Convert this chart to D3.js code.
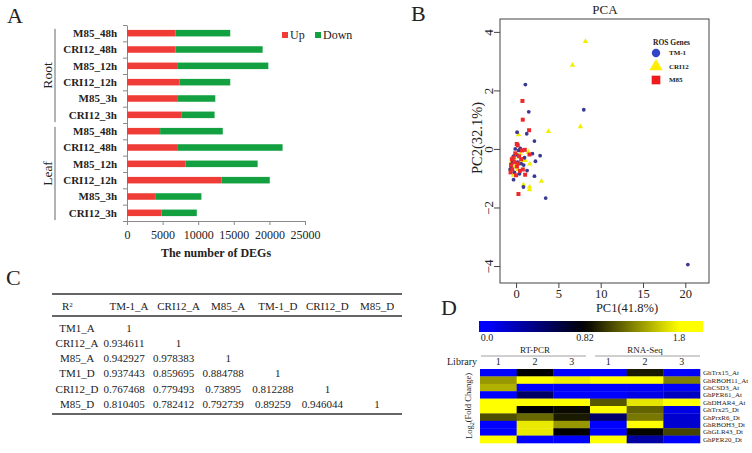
<!DOCTYPE html>
<html>
<head>
<meta charset="utf-8">
<script src="https://cdn.jsdelivr.net/npm/d3@7"></script>
<style>
  body { margin: 0; background: #fff; }
  svg text { font-family: "Liberation Serif", "Times New Roman", serif; fill: #222; }
</style>
</head>
<body>
<svg id="fig" width="752" height="453"></svg>
<script>
// ---- panel A : DEG counts ----
const barGroups = [ 'Root', 'Leaf' ];
const barLabels = [ 'M85_48h', 'CRI12_48h', 'M85_12h', 'CRI12_12h', 'M85_3h', 'CRI12_3h' ];
const rootUp = [ 6800, 6800, 7150, 7350, 7150, 7700 ];
const rootDown = [ 7700, 12250, 12700, 7150, 5250, 4600 ];
const leafUp = [ 4650, 7150, 8200, 13250, 4050, 4850 ];
const leafDown = [ 8800, 14700, 10150, 6800, 6400, 4950 ];
const degTicks = [ 0, 5000, 10000, 15000, 20000, 25000 ];
const degKeys = [ 'Up', 'Down' ];

// ---- panel B : PCA ----
const pcaGroups = [ 'TM-1', 'CRI12', 'M85' ];
const tm1Points = [
  [20.3, -3.95], [8.0, 1.34], [1.1, 2.2], [1.5, 1.27], [3.5, -1.68], [1.26, 0.52],
  [0.12, 0.57], [2.17, 0.27], [0.87, -1.3], [2.17, -0.93], [-0.3, -1.05], [2.84, -0.23],
  [2.29, -0.42], [1.93, -0.16], [1.3, -0.74], [-0.1, 0.0], [0.5, 0.02], [0.3, -0.05],
  [-0.5, -0.5], [-0.6, -0.6], [-0.4, -0.4], [0.2, -0.45], [0.6, -0.5], [-0.2, -0.8],
  [0.4, -0.85], [0.9, -0.55], [-0.7, -0.7], [0.1, -0.2], [1.0, -0.3], [-0.3, -0.25]
];
const cri12Points = [
  [8.2, 3.67], [6.67, 2.86], [7.6, 0.76], [3.83, 0.6], [0.3, 0.49], [0.87, -1.22],
  [1.6, -1.3], [1.6, -1.39], [3.0, -1.1], [1.62, -0.51], [1.07, -0.39], [1.46, -0.1],
  [-0.4, -0.6], [-0.2, -0.3], [0.2, -0.7], [0.5, -0.15], [-0.6, -0.45], [0.0, -0.55],
  [0.8, -0.4], [-0.3, -0.9]
];
const m85Points = [
  [0.75, 1.64], [0.79, 1.0], [1.54, 0.64], [0.08, 0.17], [0.2, 0.12], [0.28, -1.54],
  [1.03, -0.03], [1.58, -0.19], [1.07, -0.88], [-0.3, -0.3], [-0.6, -0.55], [-0.45, -0.7],
  [-0.2, -0.45], [0.1, -0.6], [0.35, -0.25], [0.6, -0.35], [0.45, -0.75], [-0.65, -0.8],
  [0.0, -0.9], [0.8, -0.7], [-0.1, -0.15], [0.25, -0.5], [-0.5, -0.35], [0.7, -0.05]
];
const pcaXTicks = [ 0, 5, 10, 15, 20 ];
const pcaYTicks = [ -4, -2, 0, 2, 4 ];

// ---- panel C : R² table ----
const rsqHeader = [ 'TM-1_A', 'CRI12_A', 'M85_A', 'TM-1_D', 'CRI12_D', 'M85_D' ];
const rsqNames = [ 'TM1_A', 'CRI12_A', 'M85_A', 'TM1_D', 'CRI12_D', 'M85_D' ];
const rsqValues = [
  [ 1 ],
  [ 0.934611, 1 ],
  [ 0.942927, 0.978383, 1 ],
  [ 0.937443, 0.859695, 0.884788, 1 ],
  [ 0.767468, 0.779493, 0.73895, 0.812288, 1 ],
  [ 0.810405, 0.782412, 0.792739, 0.89259, 0.946044, 1 ]
];

// ---- panel D : qRT-PCR vs RNA-Seq heatmap ----
const methods = [ 'RT-PCR', 'RNA-Seq' ];
const libraries = [ '1', '2', '3', '1', '2', '3' ];
const genes = [ 'GhTrx15_At', 'GhRBOH11_At', 'GhCSD3_At', 'GhPER61_At', 'GhDHAR4_At',
                'GhTrx25_Dt', 'GhPrxR6_Dt', 'GhRBOH3_Dt', 'GhGLR43_Dt', 'GhPER20_Dt' ];
const foldChange = [
  [ 0, 0.82, 0, 0, 0.92, 0 ],
  [ 1.4, 1.8, 1.74, 1.8, 1.8, 1.31 ],
  [ 1.5, 0, 0, 0, 0, 0 ],
  [ 0, 0.5, 0, 0, 0.08, 0.2 ],
  [ 1.8, 1.8, 1.8, 1.15, 1.7, 1.8 ],
  [ 1.8, 0.82, 0.86, 1.8, 1.2, 0.08 ],
  [ 1.12, 1.22, 0.92, 0.48, 1.28, 0.15 ],
  [ 0, 1.72, 1.4, 0, 1.8, 0.15 ],
  [ 0, 1.72, 0.82, 0, 0.84, 1.08 ],
  [ 1.8, 0, 0, 1.8, 0.3, 0 ]
];
const colorTicks = [ 0, 0.82, 1.8 ];

const svg = d3.select('#fig');
svg.append('rect').attr('width', 752).attr('height', 453).attr('fill', '#fff');

function panelLetter(txt, x, y)
{
  svg.append('text').attr('x', x).attr('y', y).style('font-size', '22px').text(txt);
}

function drawBars()
{
  let g = svg.append('g');
  let rows = [];
  barGroups.forEach((grp, gi) => {
    let up = gi === 0 ? rootUp : leafUp;
    let down = gi === 0 ? rootDown : leafDown;
    barLabels.forEach((lab, i) => rows.push({ grp, lab, up : up[i], down : down[i], key : grp + lab }));
  });

  let x = d3.scaleLinear().domain([ 0, 25000 ]).range([ 127, 305 ]);
  let y = d3.scaleBand().domain(rows.map(d => d.key)).range([ 25, 221 ])
              .paddingInner(0.6).paddingOuter(0.3);
  let bw = y.bandwidth();

  // boundary ticks between categories
  let yb = d3.scaleLinear().domain([ 0, rows.length ]).range([ 25, 221 ]);
  g.append('g').attr('transform', 'translate(127,0)')
      .call(d3.axisLeft(yb).tickValues(d3.range(rows.length + 1)).tickFormat('')
                .tickSize(4).tickSizeOuter(0))
      .call(a => a.selectAll('path,line').attr('stroke', '#8a8a8a'));

  g.append('g').attr('transform', 'translate(0,221)')
      .call(d3.axisBottom(x).tickValues(degTicks).tickFormat(d3.format('d'))
                .tickSize(4).tickSizeOuter(0).tickPadding(5))
      .call(a => a.selectAll('path,line').attr('stroke', '#8a8a8a'))
      .call(a => a.selectAll('text').style('font-size', '12px').attr('fill', '#222')
                     .style('font-family', '"Liberation Serif", serif'));

  g.selectAll('rect.up').data(rows).join('rect').attr('class', 'up')
      .attr('x', x(0)).attr('y', d => y(d.key))
      .attr('width', d => x(d.up) - x(0)).attr('height', bw)
      .attr('fill', '#f03c36');
  g.selectAll('rect.down').data(rows).join('rect').attr('class', 'down')
      .attr('x', d => x(d.up)).attr('y', d => y(d.key))
      .attr('width', d => x(d.up + d.down) - x(d.up)).attr('height', bw)
      .attr('fill', '#12a040');

  g.selectAll('text.cat').data(rows).join('text').attr('class', 'cat')
      .attr('x', 117).attr('y', d => y(d.key) + bw / 2).attr('dy', '0.35em')
      .attr('text-anchor', 'end').style('font-size', '11px').style('font-weight', 'bold')
      .text(d => d.lab);

  // Root / Leaf brackets
  barGroups.forEach((grp, gi) => {
    let y1 = y(rows[gi * 6].key) - 1;
    let y2 = y(rows[gi * 6 + 5].key) + bw + 4;
    g.append('line').attr('x1', 55).attr('x2', 55).attr('y1', y1).attr('y2', y2)
        .attr('stroke', '#666').attr('stroke-width', 1);
    g.append('text').attr('transform', `translate(52,${(y1 + y2) / 2}) rotate(-90)`)
        .attr('text-anchor', 'middle').style('font-size', '13.5px').text(grp);
  });

  g.append('text').attr('x', (x(0) + x(25000)) / 2).attr('y', 257)
      .attr('text-anchor', 'middle').style('font-size', '12px').style('font-weight', 'bold')
      .text('The number of DEGs');

  // legend
  let lx = d3.scaleOrdinal().domain(degKeys).range([ 282, 315 ]);
  let lc = d3.scaleOrdinal().domain(degKeys).range([ '#f03c36', '#12a040' ]);
  let leg = g.selectAll('g.leg').data(degKeys).join('g').attr('class', 'leg')
                .attr('transform', d => `translate(${lx(d)},32)`);
  leg.append('rect').attr('width', 6).attr('height', 6).attr('fill', d => lc(d));
  leg.append('text').attr('x', 8).attr('y', 7).style('font-size', '12px').text(d => d);
}

function drawPca()
{
  let g = svg.append('g');
  let x = d3.scaleLinear().domain([ -1.9, 22.8 ]).range([ 500, 709 ]);
  let y = d3.scaleLinear().domain([ -4.58, 4.44 ]).range([ 283, 19 ]);

  g.append('text').attr('x', 605).attr('y', 14).attr('text-anchor', 'middle')
      .style('font-size', '13px').text('PCA');

  g.append('g').attr('transform', 'translate(500,0)')
      .call(d3.axisLeft(y).tickValues(pcaYTicks).tickSize(6))
      .call(a => a.select('.domain').remove())
      .call(a => a.selectAll('line').attr('stroke', '#444'))
      .call(a => a.selectAll('text').attr('x', 0).attr('y', -7.5).attr('dy', null)
                     .attr('transform', 'rotate(-90)').attr('text-anchor', 'middle')
                     .attr('fill', '#222').style('font-size', '13px')
                     .style('font-family', '"Liberation Serif", serif'));

  g.append('g').attr('transform', 'translate(0,283)')
      .call(d3.axisBottom(x).tickValues(pcaXTicks).tickSize(5).tickPadding(1))
      .call(a => a.select('.domain').remove())
      .call(a => a.selectAll('line').attr('stroke', '#444'))
      .call(a => a.selectAll('text').attr('fill', '#222').style('font-size', '12.5px')
                     .style('font-family', '"Liberation Serif", serif'));

  g.append('rect').attr('x', 500).attr('y', 19).attr('width', 209).attr('height', 264)
      .attr('fill', 'none').attr('stroke', '#444').attr('stroke-width', 1);

  g.append('text').attr('x', 627).attr('y', 312).attr('text-anchor', 'middle')
      .style('font-size', '12.5px').text('PC1(41.8%)');
  g.append('text').attr('transform', 'translate(482,138) rotate(-90)')
      .attr('text-anchor', 'middle').style('font-size', '14.5px').text('PC2(32.1%)');

  let tri = d3.symbol(d3.symbolTriangle).size(13)();
  g.selectAll('path.cri').data(cri12Points).join('path').attr('class', 'cri')
      .attr('d', tri).attr('transform', d => `translate(${x(d[0])},${y(d[1])})`)
      .attr('fill', '#f2ee00');
  g.selectAll('circle.tm').data(tm1Points).join('circle').attr('class', 'tm')
      .attr('cx', d => x(d[0])).attr('cy', d => y(d[1])).attr('r', 1.9)
      .attr('fill', '#3a3a92');
  g.selectAll('rect.m85').data(m85Points).join('rect').attr('class', 'm85')
      .attr('x', d => x(d[0]) - 2).attr('y', d => y(d[1]) - 2)
      .attr('width', 4).attr('height', 4).attr('fill', '#ec2a2a');

  // legend
  g.append('text').attr('x', 653).attr('y', 45).style('font-size', '7.5px')
      .style('font-weight', 'bold').text('ROS Genes');
  let ly = d3.scalePoint().domain(pcaGroups).range([ 53, 80 ]);
  let shapes = {
    'TM-1' : d3.symbol(d3.symbolCircle).size(55)(),
    'CRI12' : d3.symbol(d3.symbolTriangle).size(75)(),
    'M85' : d3.symbol(d3.symbolSquare).size(75)()
  };
  let fills = d3.scaleOrdinal().domain(pcaGroups).range([ '#3444c8', '#ffee00', '#ee1c1c' ]);
  let leg = g.selectAll('g.leg').data(pcaGroups).join('g').attr('class', 'leg')
                .attr('transform', d => `translate(656,${ly(d)})`);
  leg.append('path').attr('d', d => shapes[d]).attr('fill', d => fills(d));
  leg.append('text').attr('x', 13).attr('dy', '0.35em').style('font-size', '7px')
      .style('font-weight', 'bold').text(d => d);
}

function drawTable()
{
  let g = svg.append('g');
  let colX = d3.scaleLinear().domain([ 0, 5 ]).range([ 129, 377 ]);
  let rowY = d3.scaleLinear().domain([ 0, 5 ]).range([ 328, 404 ]);

  [ 294, 316, 414 ].forEach(ly => g.append('line').attr('x1', 52).attr('x2', 402)
      .attr('y1', ly).attr('y2', ly).attr('stroke', '#333').attr('stroke-width', 1.3));

  let hd = g.append('text').attr('x', 62).attr('y', 306).attr('dy', '0.35em')
               .style('font-size', '11px');
  hd.append('tspan').text('R');
  hd.append('tspan').attr('dy', '-0.35em').style('font-size', '7px').text('2');

  g.selectAll('text.hd').data(rsqHeader).join('text').attr('class', 'hd')
      .attr('x', (d, i) => colX(i)).attr('y', 306).attr('dy', '0.35em')
      .attr('text-anchor', 'middle').style('font-size', '11px').text(d => d);

  g.selectAll('text.rn').data(rsqNames).join('text').attr('class', 'rn')
      .attr('x', 77).attr('y', (d, i) => rowY(i)).attr('dy', '0.35em')
      .attr('text-anchor', 'middle').style('font-size', '11px').text(d => d);

  let cells = [];
  rsqValues.forEach((row, r) => row.forEach((v, c) => cells.push({ r, c, v })));
  g.selectAll('text.cell').data(cells).join('text').attr('class', 'cell')
      .attr('x', d => colX(d.c) - (d.v === 1 ? 0 : 5)).attr('y', d => rowY(d.r))
      .attr('dy', '0.35em').attr('text-anchor', 'middle').style('font-size', '11px')
      .text(d => d.v);
}

function drawHeatmap()
{
  let g = svg.append('g');
  let hx = d3.scaleBand().domain(d3.range(libraries.length)).range([ 480, 700 ]);
  let hy = d3.scaleBand().domain(genes).range([ 369, 443 ]);
  let color = d3.scaleLinear().domain(colorTicks).range([ '#0000ff', '#000000', '#ffff00' ]).clamp(true);

  // colour bar
  let cb = d3.scaleLinear().domain(colorTicks).range([ 487, 585, 679 ]);
  let grad = svg.append('defs').append('linearGradient').attr('id', 'cbar');
  grad.selectAll('stop').data(d3.range(0, 1.0001, 0.05)).join('stop')
      .attr('offset', d => d)
      .attr('stop-color', d => color(cb.invert(479 + d * 224)));
  g.append('rect').attr('x', 479).attr('y', 321).attr('width', 224).attr('height', 11)
      .attr('fill', 'url(#cbar)');
  g.selectAll('text.cb').data(colorTicks).join('text').attr('class', 'cb')
      .attr('x', d => cb(d)).attr('y', 341).attr('text-anchor', 'middle')
      .style('font-size', '10px').text(d => d === 0 ? '0.0' : d);

  // method headers
  methods.forEach((m, mi) => {
    let x0 = hx(mi * 3), x1 = hx(mi * 3 + 2) + hx.bandwidth();
    g.append('text').attr('x', (x0 + x1) / 2).attr('y', 353).attr('text-anchor', 'middle')
        .style('font-size', '9px').text(m);
    g.append('line').attr('x1', x0 + (mi ? 5 : 1)).attr('x2', x1 - (mi ? 0 : 4))
        .attr('y1', 356).attr('y2', 356).attr('stroke', '#888').attr('stroke-width', 0.8);
  });
  g.append('text').attr('x', 477).attr('y', 365).attr('text-anchor', 'end')
      .style('font-size', '10px').text('Library');
  g.selectAll('text.lib').data(libraries).join('text').attr('class', 'lib')
      .attr('x', (d, i) => hx(i) + hx.bandwidth() / 2).attr('y', 365)
      .attr('text-anchor', 'middle').style('font-size', '10px').text(d => d);

  let cells = [];
  foldChange.forEach((row, r) => row.forEach((v, c) => cells.push({ gene : genes[r], c, v })));
  g.selectAll('rect.hm').data(cells).join('rect').attr('class', 'hm')
      .attr('x', d => hx(d.c)).attr('y', d => hy(d.gene))
      .attr('width', hx.bandwidth() + 0.3).attr('height', hy.bandwidth() + 0.3)
      .attr('fill', d => color(d.v));

  g.selectAll('text.gene').data(genes).join('text').attr('class', 'gene')
      .attr('x', 703).attr('y', d => hy(d) + hy.bandwidth() / 2).attr('dy', '0.35em')
      .style('font-size', '7px').text(d => d);

  let yl = g.append('text').attr('transform', 'translate(472,406) rotate(-90)')
               .attr('text-anchor', 'middle').style('font-size', '8.5px');
  yl.append('tspan').text('Log');
  yl.append('tspan').attr('dy', '0.3em').style('font-size', '6px').text('2');
  yl.append('tspan').attr('dy', '-0.3em').text('(Fold Change)');
}

drawBars();
drawPca();
drawTable();
drawHeatmap();
panelLetter('A', 7, 23);
panelLetter('B', 411, 21);
panelLetter('C', 6, 285);
panelLetter('D', 441, 315);
</script>
</body>
</html>
